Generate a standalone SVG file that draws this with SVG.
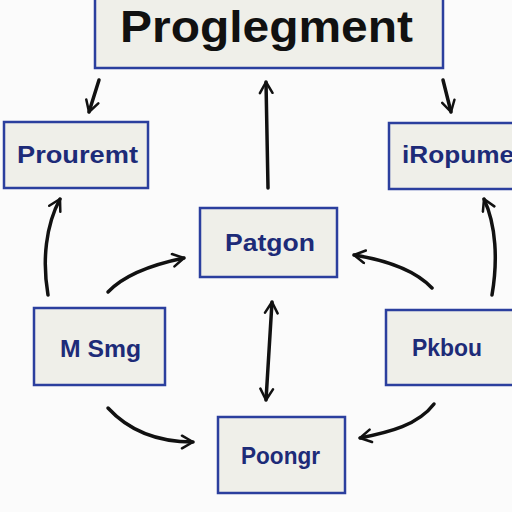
<svg xmlns="http://www.w3.org/2000/svg" width="512" height="512" viewBox="0 0 512 512">
<defs>
<style>
.box{fill:#efefe9;stroke:#2b3f9e;stroke-width:2.5}
.lbl{font-family:"Liberation Sans",Arial,sans-serif;font-weight:bold;fill:#1d2b78;font-size:23px}
.ttl{font-family:"Liberation Sans",Arial,sans-serif;font-weight:bold;fill:#111;font-size:44px}
.c{fill:none;stroke:#111;stroke-width:3.5;stroke-linecap:round}
</style>
<marker id="ah" viewBox="0 0 10 10" refX="8" refY="5" markerWidth="4.5" markerHeight="4.5" orient="auto-start-reverse" markerUnits="strokeWidth">
<path d="M1,1 L8,5 L1,9" fill="none" stroke="#111" stroke-width="1.6" stroke-linecap="round" stroke-linejoin="round"/>
</marker>
</defs>
<rect width="512" height="512" fill="#fbfbfb"/>
<g id="connectors">
<path class="c" d="M99,80 L89,112" marker-end="url(#ah)"/>
<path class="c" d="M268,188 L266,82" marker-end="url(#ah)"/>
<path class="c" d="M443,80 L451,112" marker-end="url(#ah)"/>
<path class="c" d="M48,295 C42,260 46,225 60,199" marker-end="url(#ah)"/>
<path class="c" d="M492,295 C498,260 496,225 484,199" marker-end="url(#ah)"/>
<path class="c" d="M108,292 C125,274 155,264 184,258" marker-end="url(#ah)"/>
<path class="c" d="M432,288 C415,270 385,260 354,255" marker-end="url(#ah)"/>
<path class="c" d="M272,302 L266,400" marker-start="url(#ah)" marker-end="url(#ah)"/>
<path class="c" d="M108,408 C130,432 160,442 193,442" marker-end="url(#ah)"/>
<path class="c" d="M434,404 C418,425 390,432 360,438" marker-end="url(#ah)"/>
</g>
<g id="n-top">
<rect class="box" x="95" y="-2" width="348" height="70"/>
<text class="ttl" x="120" y="42" textLength="293" lengthAdjust="spacingAndGlyphs">Proglegment</text>
</g>
<g id="n-left">
<rect class="box" x="4" y="122" width="144" height="66"/>
<text class="lbl" x="17" y="163" textLength="121" lengthAdjust="spacingAndGlyphs">Prouremt</text>
</g>
<g id="n-right">
<rect class="box" x="389" y="123" width="126" height="66"/>
<text class="lbl" x="402" y="163" textLength="112" lengthAdjust="spacingAndGlyphs">iRopume</text>
</g>
<g id="n-center">
<rect class="box" x="200" y="208" width="137" height="69"/>
<text class="lbl" x="225" y="251" textLength="90" lengthAdjust="spacingAndGlyphs">Patgon</text>
</g>
<g id="n-midleft">
<rect class="box" x="34" y="308" width="131" height="77"/>
<text class="lbl" x="60" y="357" textLength="81" lengthAdjust="spacingAndGlyphs">M Smg</text>
</g>
<g id="n-midright">
<rect class="box" x="386" y="310" width="128" height="75"/>
<text class="lbl" x="412" y="356" textLength="70" lengthAdjust="spacingAndGlyphs">Pkbou</text>
</g>
<g id="n-bottom">
<rect class="box" x="218" y="417" width="127" height="76"/>
<text class="lbl" x="241" y="464" textLength="79" lengthAdjust="spacingAndGlyphs">Poongr</text>
</g>
</svg>
